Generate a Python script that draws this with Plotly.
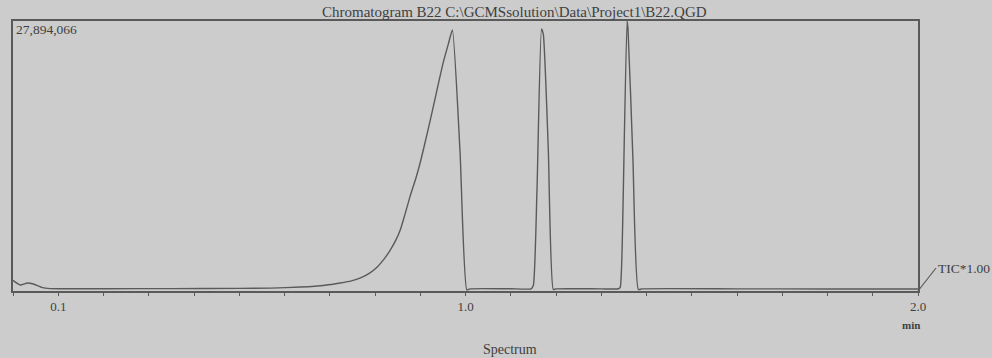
import plotly.graph_objects as go

# Total ion chromatogram, sample B22
Y_MAX = 27894066
RT_MIN = [
    0.000, 0.016, 0.032, 0.045, 0.065, 0.082, 0.200, 0.350, 0.500, 0.570,
    0.635, 0.690, 0.723, 0.748, 0.768, 0.788, 0.805, 0.820, 0.834, 0.846,
    0.856, 0.867, 0.878, 0.890, 0.900, 0.915, 0.929, 0.940, 0.951, 0.962,
    0.971, 0.988, 1.003, 1.010, 1.100, 1.145, 1.150, 1.158, 1.168, 1.172,
    1.183, 1.194, 1.200, 1.300, 1.338, 1.342, 1.346, 1.357, 1.359, 1.370,
    1.382, 1.390, 1.600, 1.800, 2.000,
]
TIC = [
    1100000, 620000, 830000, 720000, 350000, 250000, 240000, 250000, 270000, 300000,
    410000, 600000, 830000, 1050000, 1350000, 1850000, 2490000, 3300000, 4250000, 5250000,
    6330000, 8050000, 9850000, 11600000, 13270000, 16200000, 19080000, 21400000, 23640000, 25500000,
    26960000, 14300000, 100000, 220000, 230000, 230000, 600000, 10500000, 27070000, 26500000,
    14600000, 150000, 220000, 220000, 230000, 400000, 4200000, 27894066, 27200000, 13600000,
    150000, 220000, 220000, 210000, 200000,
]
TICK_VALS = [0.1, 1.0, 2.0]
TICK_TEXT = ["0.1", "1.0", "2.0"]

TITLE = "Chromatogram B22 C:\\GCMSsolution\\Data\\Project1\\B22.QGD"

BG = "#cccccc"
INK = "#5a5a5a"
TXT = "#3f3f3f"
SERIF = "Liberation Serif, Times New Roman, serif"

W, H = 992, 358
L, R, T, B = 13, 74, 21, 67
PW, PH = W - L - R, H - T - B


def px(x):
    return (x - L) / PW


def py(y):
    return (H - B - y) / PH


def label(text, x, y, size, xanchor="center", **font):
    return dict(text=text, x=px(x), y=py(y), xref="paper", yref="paper",
                xanchor=xanchor, yanchor="middle", showarrow=False,
                font=dict(size=size, color=TXT, **font))


fig = go.Figure(
    go.Scatter(
        x=RT_MIN, y=TIC, mode="lines",
        line=dict(color=INK, width=1.4, shape="spline", smoothing=0.5),
        hoverinfo="skip", showlegend=False,
    )
)

fig.update_layout(
    width=W, height=H,
    margin=dict(l=L, r=R, t=T, b=B),
    paper_bgcolor=BG, plot_bgcolor=BG,
    font=dict(family=SERIF, color=TXT, size=11),
    xaxis=dict(
        range=[0, 2.0], showgrid=False, zeroline=False,
        showline=True, linecolor=INK, linewidth=1.6, mirror=True,
        tickvals=TICK_VALS, ticktext=TICK_TEXT, ticks="outside",
        ticklen=3, tickcolor=INK, tickfont=dict(size=13, color=TXT),
        minor=dict(dtick=0.1, ticks="outside", ticklen=3, tickcolor=INK),
    ),
    yaxis=dict(
        range=[0, Y_MAX], showgrid=False, zeroline=False,
        showline=True, linecolor=INK, linewidth=1.6, mirror=True,
        showticklabels=False, ticks="",
    ),
    annotations=[
        label(TITLE, 514, 12, 15),
        label(f"{Y_MAX:,}", 14, 29, 13.5, xanchor="left"),
        label("TIC*1.00", 936, 268, 13.5, xanchor="left"),
        label("min", 911, 325, 11, weight="bold"),
        label("Spectrum", 510, 349, 14),
    ],
    shapes=[
        dict(type="line", xref="paper", yref="paper",
             x0=1.0, y0=0.0, x1=px(936), y1=py(268),
             line=dict(color=INK, width=1.2)),
    ],
)

fig.write_html("out.html")
